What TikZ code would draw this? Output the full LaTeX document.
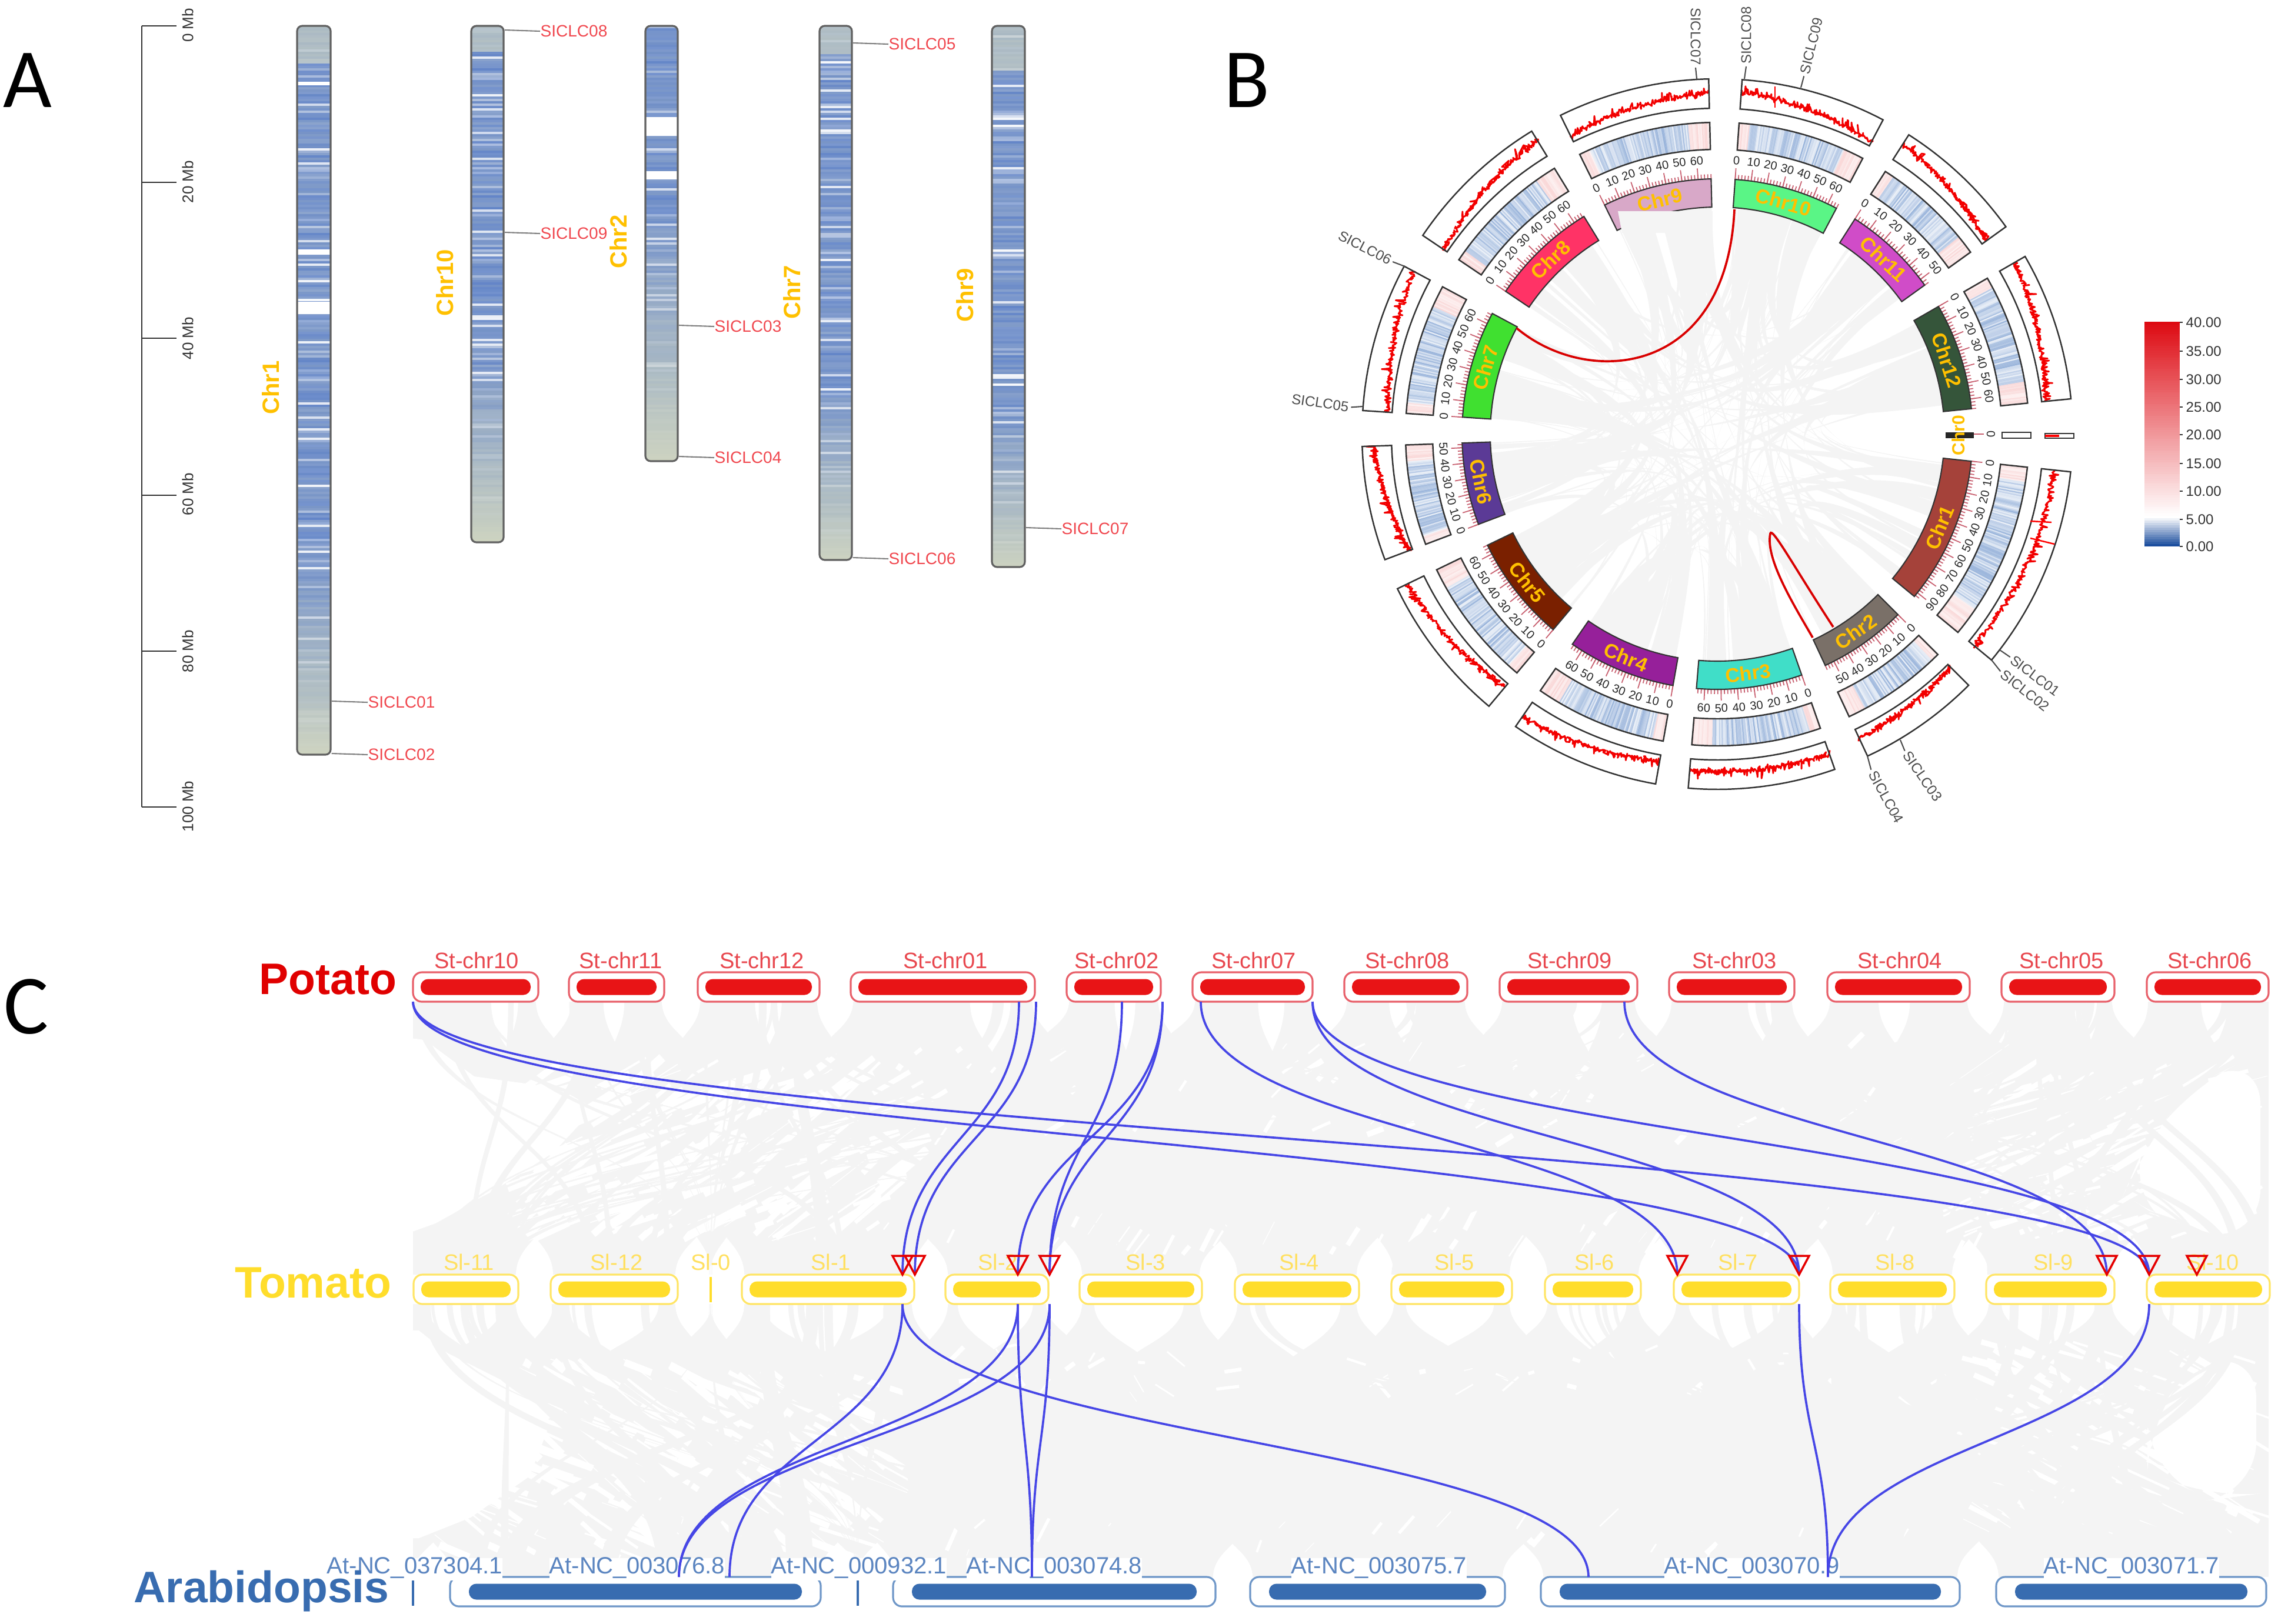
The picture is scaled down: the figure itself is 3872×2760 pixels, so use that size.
\documentclass[tikz,border=0pt]{standalone}
\usepackage{fontspec}
\setmainfont{Liberation Sans}
\newfontfamily\letterfont{Carlito}
\usetikzlibrary{calc}
\newcommand\pxf[1]{\pgfmathsetmacro\fsz{#1*0.2845}\fontsize{\fsz pt}{\fsz pt}\selectfont}
\definecolor{axisgray}{HTML}{333333}
\definecolor{chrblue}{HTML}{5F82C8}
\definecolor{chrbeige}{HTML}{D4D8C0}
\definecolor{chryellow}{HTML}{FFC000}
\definecolor{sicred}{HTML}{F0484F}
\definecolor{ribgray}{HTML}{F4F4F4}
\definecolor{linkblue}{HTML}{4646E6}
\definecolor{potred}{HTML}{E81416}
\definecolor{potedge}{HTML}{E8606A}
\definecolor{potlab}{HTML}{E8484F}
\definecolor{tomyel}{HTML}{FFDD2B}
\definecolor{tomedge}{HTML}{FFE566}
\definecolor{tomlab}{HTML}{FFE060}
\definecolor{atblue}{HTML}{386CB0}
\definecolor{atedge}{HTML}{6F97C8}
\definecolor{atlab}{HTML}{5B85C0}
\definecolor{heatB}{HTML}{6F95CC}
\definecolor{heatR}{HTML}{F4B0B0}
\definecolor{legB}{HTML}{1C4E9E}
\definecolor{legR}{HTML}{DD0A12}
\definecolor{tickred}{HTML}{C86070}
\definecolor{cA}{HTML}{A5423A}% Chr1
\definecolor{cB}{HTML}{7A7068}% Chr2
\definecolor{cC}{HTML}{40DEC8}% Chr3
\definecolor{cD}{HTML}{96209A}% Chr4
\definecolor{cE}{HTML}{7A2000}% Chr5
\definecolor{cF}{HTML}{5B3A96}% Chr6
\definecolor{cG}{HTML}{40E030}% Chr7
\definecolor{cH}{HTML}{FF3366}% Chr8
\definecolor{cI}{HTML}{D8A8C8}% Chr9
\definecolor{cJ}{HTML}{5AF586}% Chr10
\definecolor{cK}{HTML}{D04CC8}% Chr11
\definecolor{cL}{HTML}{35553A}% Chr12
\tikzset{
  mblab/.style={font=\pxf{26},rotate=90,text=axisgray,inner sep=0pt},
  chrlab/.style={font=\pxf{40}\bfseries,rotate=90,text=chryellow,inner sep=0pt},
  siclab/.style={font=\pxf{28},text=sicred,inner sep=0pt,anchor=west},
  leader/.style={draw=gray,line width=0.6pt},
  chromoedge/.style={draw=black!62,line width=0.9pt,rounded corners=2.5pt,inner sep=0pt},
  panel/.style={font=\letterfont\pxf{143},anchor=base,inner sep=0pt},
  ciclab/.style={font=\pxf{24},text=black!70,inner sep=1pt},
  cicnum/.style={font=\pxf{20},text=black!85,inner sep=0pt},
  ideolab/.style={font=\pxf{34}\bfseries,text=chryellow,inner sep=0pt},
  trackedge/.style={draw=black!80,line width=0.7pt},
  redlink/.style={draw=red!85!black,line width=1.05pt},
  legtext/.style={font=\pxf{24},text=axisgray,anchor=west,inner sep=0pt},
  potout/.style={draw=potedge,line width=0.9pt,fill=white,rounded corners=4.3pt,minimum height=0.5cm,inner sep=0pt},
  potin/.style={fill=potred,rounded corners=3.6pt,minimum height=0.27cm,inner sep=0pt},
  tomout/.style={draw=tomedge,line width=0.9pt,fill=white,rounded corners=4.3pt,minimum height=0.5cm,inner sep=0pt},
  tomin/.style={fill=tomyel,rounded corners=3.6pt,minimum height=0.27cm,inner sep=0pt},
  atout/.style={draw=atedge,line width=0.9pt,fill=white,rounded corners=4.3pt,minimum height=0.5cm,inner sep=0pt},
  atin/.style={fill=atblue,rounded corners=3.6pt,minimum height=0.27cm,inner sep=0pt},
  stlab/.style={font=\pxf{38},text=potlab,inner sep=0pt},
  sllab/.style={font=\pxf{38},text=tomlab,inner sep=0pt},
  atlabel/.style={font=\pxf{40},text=atlab,anchor=base,fill=white,inner xsep=0pt,inner ysep=0pt,text height=0.75em,text depth=0.35em},
  rowname/.style={font=\pxf{75}\bfseries,anchor=base west,inner sep=0pt},
  glink/.style={draw=linkblue,line width=1.05pt},
  trimark/.style={draw=red!90!black,line width=1pt,line join=miter},
}
% ---- panel A chromosome with random density bands
\newcommand\chromo[6]{% name,x0,x1,y1,top fade,bottom fade start
  \begin{scope}
    \clip[rounded corners=2.5pt] (#2,44) rectangle (#3,#4);
    \fill[chrbeige] (#2,44) rectangle (#3,#4);
    \pgfmathtruncatemacro\nst{(#4-44)/4}
    \foreach \k in {0,...,\nst}{
      \pgfmathsetmacro\ff{\k/\nst}
      \pgfmathsetmacro\tt{min(\ff<#5 ? 0.35 : 1,(1-\ff)/(1-#6))}
      \pgfmathtruncatemacro\tb{6+92*\tt*(0.75+0.25*rnd)}
      \pgfmathsetmacro\rw{rnd}
      \pgfmathtruncatemacro\ww{\tt*(\rw>0.93 ? 65+30*rnd : (\rw>0.78 ? 25+25*rnd : 14*rnd))}
      \pgfmathsetmacro\yy{44+\k*4}
      \pgfmathsetmacro\yz{\yy+4.6}
      \fill[fill=chrblue!\tb!chrbeige!\the\numexpr100-\ww\relax!white] (#2,\yy) rectangle (#3,\yz);
    }
  \end{scope}
}
\newcommand\chromoedge[4]{% name,x0,x1,y1
  \pgfmathsetmacro\bw{(#3-#2)*0.01}\pgfmathsetmacro\bh{(#4-44)*0.01}
  \node[chromoedge,minimum width=\bw cm,minimum height=\bh cm] (#1) at ({(#2+#3)/2},{(44+#4)/2}) {};
}
% ---- panel C
\def\PA{{702,967,1186,1446,1813,2027,2285,2549,2837,3106,3402,3649}}
\def\PB{{915,1129,1393,1759,1973,2231,2494,2783,3050,3348,3594,3856}}
\def\TA{{703,936,1205,1261,1607,1835,2099,2365,2626,2845,3111,3376,3649}}
\def\TB{{881,1152,1211,1554,1782,2043,2310,2570,2789,3058,3322,3594,3858}}
\def\AA{{702,765,1456,1518,2125,2619,3393}}
\def\AB{{704,1395,1460,2066,2558,3331,3852}}
\newcommand\ribbonset[9]{% topA,topB,botA,botB,y0,y1,N,j expr,colour
  \pgfmathsetmacro\ymid{(#5+#6)/2}
  \foreach \k in {1,...,#7}{
    \pgfmathrandominteger{\ri}{\imin}{\imax}
    \pgfmathtruncatemacro\rj{#8}
    \pgfmathsetmacro\xa{#1[\ri]}\pgfmathsetmacro\xb{#2[\ri]}
    \pgfmathsetmacro\xc{#3[\rj]}\pgfmathsetmacro\xd{#4[\rj]}
    \pgfmathsetmacro\wf{\wfa+rnd*(\wfb-\wfa)}
    \pgfmathsetmacro\xp{\xa+rnd*(1-\wf)*(\xb-\xa)}
    \pgfmathsetmacro\xq{\xp+\wf*(\xb-\xa)}
    \pgfmathsetmacro\xr{\xc+rnd*(1-\wf)*(\xd-\xc)}
    \pgfmathsetmacro\xs{\xr+\wf*(\xd-\xc)}
    \fill[#9] (\xp,#5) .. controls (\xp,\ymid) and (\xr,\ymid) .. (\xr,#6) -- (\xs,#6) .. controls (\xs,\ymid) and (\xq,\ymid) .. (\xq,#5) -- cycle;
  }
}
\newcommand\lens[5]{% x0,x1,y0,tipx,tipy : white pointed gap in the ribbon field
  \pgfmathsetmacro\lm{(#3+#5)/2}
  \pgfmathsetmacro\lla{#4-(#4-#1)*0.3}\pgfmathsetmacro\llb{#4+(#2-#4)*0.3}\pgfmathsetmacro\lly{#5+(#3-#5)*0.2}
  \fill[white] (#1,#3) .. controls (#1,\lm) and (\lla,\lly) .. (#4,#5) .. controls (\llb,\lly) and (#2,\lm) .. (#2,#3) -- cycle;
}
\newcommand\strips[9]{% N,xmin,xmax,ymin,ymax,ang0,ang1,lmax,tmax
  \foreach \k in {1,...,#1}{
    \pgfmathsetmacro\stx{#2+rnd*(#3-#2)}
    \pgfmathsetmacro\sty{#4+rnd*(#5-#4)}
    \pgfmathsetmacro\sta{#6+rnd*(#7-#6)}
    \pgfmathsetmacro\stl{10+rnd*#8}
    \pgfmathsetmacro\stt{(1+rnd*#9)*0.2845}
    \pgfmathsetmacro\sex{\stx+\stl*cos(\sta)}
    \pgfmathsetmacro\sey{\sty+\stl*sin(\sta)}
    \draw[white,line width=\stt pt] (\stx,\sty) -- (\sex,\sey);
  }
}
\newcommand\rowbar[6]{% name,x0,x1,yc,outer,inner
  \pgfmathsetmacro\bw{(#3-#2)*0.01}\pgfmathsetmacro\biw{(#3-#2-2*\barinset)*0.01}\pgfmathsetmacro\bx{(#2+#3)/2}
  \node[#5,minimum width=\bw cm] (#1) at (\bx,#4) {};
  \node[#6,minimum width=\biw cm] (#1i) at (\bx,#4) {};
}
\newcommand\sigm[2]{\draw[glink] (#1) .. controls ($(#1)!.5!(#1|-#2)$) and ($(#2)!.5!(#2|-#1)$) .. (#2);}
\newcommand\tri[1]{\draw[trimark] ($(#1)+(-17,-32)$) -- ($(#1)+(17,-32)$) -- (#1) -- cycle;}
% ---- panel B
\def\SA{{4,32.6,60,96.1,135,160.7,190,220,249.3,273.8,304,333.8}}
\def\SB{{27.8,54.3,84.3,129.5,155,184.7,214.6,244.2,268,298.2,328.5,358.6}}
\newcommand\sectorpath[4]{plot[domain=#1:#2,samples=30] (\x:#3) -- plot[domain=#2:#1,samples=30] (\x:#4) -- cycle}
\newcommand\sectorch[8]{% colour,b0,b1,len,maxlab,v0,v1,label
  \pgfmathsetmacro\tha{#2-90}\pgfmathsetmacro\thb{#3-90}
  \draw[red!95!black,line width=0.8pt,line join=round] plot[domain=\tha:\thb,samples=240]
    (\x:{554+50*min(0.97,max(0.03,#6+(#7-#6)*(\x-\tha)/(\thb-\tha)+0.3*(rnd-0.4)*rnd+pow(rnd,14)*0.3))});
  \draw[trackedge] \sectorpath{\tha}{\thb}{554}{604};
  \pgfmathtruncatemacro\hn{(#3-#2)/0.25}
  \foreach \k in {1,...,\hn}{
    \pgfmathsetmacro\ff{(\k-0.5)/\hn}
    \pgfmathsetmacro\ab{\tha+(\k-1)*(\thb-\tha)/\hn}
    \pgfmathsetmacro\ac{\ab+(\thb-\tha)/\hn+0.03}
    \pgfmathtruncatemacro\pk{(\ff<0.08 || \ff>0.84) ? 1 : 0}
    \pgfmathsetmacro\edg{min(1,min(\ff/0.2,(1-\ff)/0.3))}
    \pgfmathtruncatemacro\qq{\pk==1 ? 18+32*rnd : (14+58*rnd)*(0.45+0.55*\edg)}
    \ifnum\pk=1 \def\hc{heatR}\else\def\hc{heatB}\fi
    \fill[fill=\hc!\qq!white] (\ab:484) -- (\ab:530) -- (\ac:530) -- (\ac:484) -- cycle;
  }
  \draw[trackedge] \sectorpath{\tha}{\thb}{484}{530};
  \foreach \m in {0,2,...,#4}{
    \pgfmathsetmacro\am{\tha+\m/#4*(\thb-\tha)}
    \draw[tickred,line width=0.5pt] (\am:434) -- (\am:442);
  }
  \foreach \m in {0,10,...,#5}{
    \pgfmathsetmacro\am{\tha+\m/#4*(\thb-\tha)}
    \pgfmathsetmacro\bb{\am+90}
    \pgfmathsetmacro\rr{(\bb>90 && \bb<270) ? 180-\bb : -\bb}
    \draw[tickred,line width=0.5pt] (\am:434) -- (\am:453);
    \node[cicnum,rotate=\rr] at (\am:466) {\m};
  }
  \fill[#1] \sectorpath{\tha}{\thb}{386}{434};
  \draw[draw=black!80,line width=0.6pt] \sectorpath{\tha}{\thb}{386}{434};
  \pgfmathsetmacro\am{(\tha+\thb)/2}
  \pgfmathsetmacro\bb{\am+90}
  \pgfmathsetmacro\rr{(\bb>90 && \bb<270) ? 180-\bb : -\bb}
  \node[ideolab,rotate=\rr] (ideo#8) at (\am:410) {#8};
}
\begin{document}
\begin{tikzpicture}[x=0.01cm,y=-0.01cm]
\useasboundingbox (0,0) rectangle (3872,2760);
\pgfmathsetseed{4242}
% ================ Panel letters
\node[panel] (letA) at (47,182) {A};
\node[panel] (letB) at (2119,182) {B};
\node[panel] (letC) at (45,1757) {C};
% ================ Panel A
\draw[axisgray,line width=0.8pt] (241,44) -- (241,1372);
\foreach \yy/\lab/\ly in {44/0 Mb/43,310/20 Mb/309,575/40 Mb/575,842/60 Mb/840,1107/80 Mb/1107,1372/100 Mb/1371}{
  \draw[axisgray,line width=0.8pt] (241,\yy) -- (300,\yy);
  \node[mblab] at (319,\ly) {\lab};
}
\chromo{c1}{505}{562}{1283}{0.05}{0.72}
\fill[white] (505,513) rectangle (562,534);
\fill[white] (505,139) rectangle (562,145);
\fill[white] (505,424) rectangle (562,433);
\chromoedge{c1}{505}{562}{1283}
\chromo{c10}{801}{856}{922}{0.05}{0.62}
\chromoedge{c10}{801}{856}{922}
\chromo{c2}{1097}{1152}{784}{0.0}{0.42}
\fill[white] (1097,199) rectangle (1152,231);
\fill[white] (1097,291) rectangle (1152,305);
\chromoedge{c2}{1097}{1152}{784}
\chromo{c7}{1393}{1448}{952}{0.05}{0.66}
\chromoedge{c7}{1393}{1448}{952}
\chromo{c9}{1686}{1742}{964}{0.08}{0.7}
\chromoedge{c9}{1686}{1742}{964}
\node[chrlab] (n1) at (460,659) {Chr1};
\node[chrlab] (n10) at (756,481) {Chr10};
\node[chrlab] (n2) at (1051,411) {Chr2};
\node[chrlab] (n7) at (1346,497) {Chr7};
\node[chrlab] (n9) at (1640,502) {Chr9};
\foreach \nm/\cn/\xx/\yy in {SICLC08/c10/918/53,SICLC09/c10/918/397,SICLC03/c2/1214/555,SICLC04/c2/1214/778,SICLC05/c7/1510/75,SICLC06/c7/1510/950,SICLC07/c9/1804/899,SICLC01/c1/625/1194,SICLC02/c1/625/1283}{
  \node[siclab] (A\nm) at (\xx,\yy) {\nm};
  \draw[leader] ($(\cn.east |- A\nm.west)+(0,-2)$) -- (A\nm.west);
}
% ================ Panel B
\begin{scope}[shift={(2919,738)}]
  \foreach \k in {1,...,170}{
    \pgfmathrandominteger{\ri}{0}{11}
    \pgfmathrandominteger{\rj}{0}{11}
    \pgfmathsetmacro\wa{0.3+pow(rnd,2.5)*5}
    \pgfmathsetmacro\wb{0.3+pow(rnd,2.5)*5}
    \pgfmathsetmacro\p{\SA[\ri]-90+rnd*(\SB[\ri]-\SA[\ri]-\wa)}
    \pgfmathsetmacro\q{\SA[\rj]-90+rnd*(\SB[\rj]-\SA[\rj]-\wb)}
    \pgfmathsetmacro\pp{\p+\wa}\pgfmathsetmacro\qq{\q+\wb}
    \pgfmathsetmacro\rc{30+140*rnd}
    \fill[ribgray] (\p:386) .. controls (\p:\rc) and (\q:\rc) .. (\q:386) -- (\qq:386) .. controls (\qq:\rc) and (\pp:\rc) .. (\pp:386) -- cycle;
  }
  \sectorch{cJ}{4}{27.8}{66}{60}{0.55}{0.15}{Chr10}
  \sectorch{cK}{32.6}{54.3}{54}{50}{0.6}{0.15}{Chr11}
  \sectorch{cL}{60}{84.3}{66}{60}{0.55}{0.1}{Chr12}
  \sectorch{cA}{96.1}{129.5}{93}{90}{0.4}{0.2}{Chr1}
  \sectorch{cB}{135}{155}{56}{50}{0.1}{0.3}{Chr2}
  \sectorch{cC}{160.7}{184.7}{65}{60}{0.4}{0.35}{Chr3}
  \sectorch{cD}{190}{214.6}{67}{60}{0.2}{0.55}{Chr4}
  \sectorch{cE}{220}{244.2}{66}{60}{0.1}{0.6}{Chr5}
  \sectorch{cF}{249.3}{268}{53}{50}{0.1}{0.6}{Chr6}
  \sectorch{cG}{273.8}{298.2}{67}{60}{0.1}{0.6}{Chr7}
  \sectorch{cH}{304}{328.5}{67}{60}{0.1}{0.6}{Chr8}
  \sectorch{cI}{333.8}{358.6}{68}{60}{0.2}{0.5}{Chr9}
\end{scope}
% overlay of ribbons on Chr9
\fill[ribgray] (2750,359) -- (2911,359) -- (2911,396) -- (2757,396) -- cycle;
% spikes
\draw[red,line width=0.8pt] (3017,147) -- (3017,183);
\draw[red,line width=0.7pt] (3451,886) -- (3487,888);
\draw[red,line width=0.7pt] (3451,915) -- (3492,925);
% Chr0
\fill[black!85] (3307,735) rectangle (3355,745);
\draw[tickred,line width=0.8pt] (3355,738) -- (3372,738);
\node[cicnum,rotate=-90] (z0) at (3384,738) {0};
\draw[trackedge] (3403,735) rectangle (3452,745);
\draw[trackedge] (3476,737) rectangle (3525,745);
\fill[red] (3476,739) rectangle (3500,743);
\node[ideolab,font=\pxf{30}\bfseries,rotate=90] (ideoChr0) at (3329,740) {Chr0};
% red links
\coordinate (lka) at (2578,558);
\coordinate (lkb) at (2948,356);
\coordinate (lkc) at (3081,1084);
\coordinate (lkd) at (3116,1066);
\coordinate (lke) at (3009,907);
\draw[redlink] (lka) .. controls (2700,660) and (2935,640) .. (lkb);
\draw[redlink] (lkc) .. controls (3050,1030) and (3000,950) .. (lke) .. controls (3012,895) and (3050,965) .. (lkd);
% circos labels
\node[ciclab,rotate=-90] (S7) at (2882,62) {SICLC07};
\coordinate (S7p) at (2884,134); \draw[leader,black!70] (S7.east) -- (S7p);
\node[ciclab,rotate=90] (S8) at (2968,60) {SICLC08};
\coordinate (S8p) at (2965,134); \draw[leader,black!70] (S8.west) -- (S8p);
\node[ciclab,rotate=76] (S9) at (3079,78) {SICLC09};
\coordinate (S9p) at (3061,149); \draw[leader,black!70] (S9.west) -- (S9p);
\node[ciclab,rotate=-27] (S6) at (2320,421) {SICLC06};
\coordinate (S6p) at (2388,453); \draw[leader,black!70] (S6.east) -- (S6p);
\node[ciclab,rotate=-8] (S5) at (2244,685) {SICLC05};
\coordinate (S5p) at (2316,691); \draw[leader,black!70] (S5.east) -- (S5p);
\node[ciclab,rotate=-37] (S1) at (3459,1149) {SICLC01};
\coordinate (S1p) at (3399,1105); \draw[leader,black!70] (S1.west) -- (S1p);
\node[ciclab,rotate=-38] (S2) at (3442,1174) {SICLC02};
\coordinate (S2p) at (3385,1122); \draw[leader,black!70] (S2.west) -- (S2p);
\node[ciclab,rotate=-55] (S3) at (3268,1320) {SICLC03};
\coordinate (S3p) at (3230,1258); \draw[leader,black!70] (S3.west) -- (S3p);
\node[ciclab,rotate=-61] (S4) at (3206,1355) {SICLC04};
\coordinate (S4p) at (3174,1285); \draw[leader,black!70] (S4.west) -- (S4p);
% legend
\foreach \k in {0,...,95}{
  \pgfmathsetmacro\vv{40*\k/95}
  \pgfmathsetmacro\ya{929-\k/96*381}
  \pgfmathsetmacro\yb{\ya-5}
  \pgfmathtruncatemacro\cc{\vv<5 ? 100*(1-\vv/5) : 100*(\vv-5)/35}
  \pgfmathtruncatemacro\isb{\vv<5 ? 1 : 0}
  \ifnum\isb=1 \def\lc{legB}\else\def\lc{legR}\fi
  \fill[fill=\lc!\cc!white] (3645,\ya) rectangle (3705,\yb);
}
\foreach \vl/\yy in {40.00/548,35.00/597,30.00/645,25.00/692,20.00/739,15.00/788,10.00/835,5.00/883,0.00/929}{
  \node[legtext] at (3715,\yy) {\vl};
  \draw[axisgray,line width=0.4pt] (3705,\yy) -- (3710,\yy);
}
% ================ Panel C ribbon field
\fill[ribgray] (702,1703) rectangle (3856,2167);
\fill[ribgray] (702,2217) rectangle (3856,2681);
% white blobs at the sparse left and right sides
\fill[white] (698,1765) -- (722,1768) -- (806,1830) -- (950,1850) -- (1010,1885) -- (940,1960) -- (830,2030) -- (740,2080) -- (698,2095) -- cycle;
\fill[white] (698,2262) -- (712,2262) -- (760,2300) -- (880,2360) -- (935,2420) -- (900,2510) -- (800,2580) -- (712,2615) -- (698,2615) -- cycle;
\fill[white,rounded corners=25pt] (3842,1790) -- (3720,1850) -- (3640,1960) -- (3610,2030) -- (3700,2090) -- (3842,2110) -- cycle;
\fill[white,rounded corners=25pt] (3835,2290) -- (3720,2330) -- (3650,2420) -- (3650,2500) -- (3760,2550) -- (3835,2540) -- cycle;
% streaks
\strips{230}{850}{1500}{1840}{2110}{-45}{-15}{110}{15}
\strips{230}{720}{1480}{2310}{2630}{15}{45}{110}{13}
\strips{60}{1500}{3400}{1760}{1950}{-60}{-20}{30}{9}
\strips{40}{1500}{3400}{2080}{2140}{-65}{-50}{40}{8}
\strips{40}{1500}{3300}{2280}{2380}{-60}{60}{30}{7}
\strips{30}{1500}{3300}{2590}{2650}{-70}{-40}{35}{8}
\strips{120}{3300}{3800}{1830}{2110}{-35}{-10}{120}{9}
\strips{110}{3320}{3800}{2280}{2580}{15}{35}{110}{9}
% lenses under and above the rows
\foreach \g in {0,...,10}{
  \pgfmathtruncatemacro\gn{\g+1}
  \pgfmathsetmacro\la{\PB[\g]-4}\pgfmathsetmacro\lb{\PA[\gn]+4}
  \pgfmathsetmacro\lt{(\la+\lb)/2+(rnd-0.5)*20}\pgfmathsetmacro\ld{1755+rnd*10}
  \lens{\la}{\lb}{1703}{\lt}{\ld}
}
\foreach \g in {0,...,11}{
  \pgfmathsetmacro\la{\PA[\g]}\pgfmathsetmacro\lb{\PB[\g]}
  \pgfmathsetmacro\lp{\la+(0.2+0.45*rnd)*(\lb-\la)}\pgfmathsetmacro\lq{\lp+0.22*(\lb-\la)}
  \pgfmathsetmacro\lt{\lq-0.1*(\lb-\la)}\pgfmathsetmacro\ld{1763+rnd*25}
  \lens{\lp}{\lq}{1703}{\lt}{\ld}
}
\foreach \g in {0,...,11}{
  \pgfmathtruncatemacro\gn{\g+1}
  \pgfmathsetmacro\la{\TB[\g]-4}\pgfmathsetmacro\lb{\TA[\gn]+4}
  \pgfmathsetmacro\lt{(\la+\lb)/2+(rnd-0.5)*12}\pgfmathsetmacro\ld{2112-rnd*10}
  \lens{\la}{\lb}{2167}{\lt}{\ld}
  \pgfmathsetmacro\lt{(\la+\lb)/2+(rnd-0.5)*12}\pgfmathsetmacro\ld{2269+rnd*10}
  \lens{\la}{\lb}{2217}{\lt}{\ld}
}
\foreach \g in {0,1,3,4,5,6,7,8,9,10,11,12}{
  \pgfmathsetmacro\la{\TA[\g]}\pgfmathsetmacro\lb{\TB[\g]}
  \pgfmathsetmacro\lp{\la+0.12*(\lb-\la)}\pgfmathsetmacro\lq{\la+0.85*(\lb-\la)}
  \pgfmathsetmacro\lt{\lp+0.48*(\lq-\lp)}\pgfmathsetmacro\ld{2287+rnd*20}
  \lens{\lp}{\lq}{2217}{\lt}{\ld}
}
\foreach \g in {0,...,5}{
  \pgfmathtruncatemacro\gn{\g+1}
  \pgfmathsetmacro\la{\AB[\g]-4}\pgfmathsetmacro\lb{\AA[\gn]+4}
  \pgfmathsetmacro\lt{(\la+\lb)/2+(rnd-0.5)*12}\pgfmathsetmacro\ld{2626-rnd*6}
  \lens{\la}{\lb}{2681}{\lt}{\ld}
}
% sparse ribbons crossing the white side areas
\def\wfa{0.02}\def\wfb{0.08}
\def\imin{0}\def\imax{2}
\ribbonset{\PA}{\PB}{\TA}{\TB}{1703}{2167}{30}{rnd*7}{ribgray}
\def\imin{2}\def\imax{9}
\ribbonset{\PA}{\PB}{\TA}{\TB}{1703}{2167}{20}{rnd*1.4}{ribgray}
\def\imin{10}\def\imax{11}
\ribbonset{\PA}{\PB}{\TA}{\TB}{1703}{2167}{30}{7+rnd*5}{ribgray}
\def\imin{5}\def\imax{10}
\ribbonset{\PA}{\PB}{\TA}{\TB}{1703}{2167}{20}{11+rnd*1.9}{ribgray}
\def\imin{0}\def\imax{3}
\ribbonset{\TA}{\TB}{\AA}{\AB}{2217}{2681}{40}{1+rnd*2.9}{ribgray}
\def\imin{10}\def\imax{12}
\ribbonset{\TA}{\TB}{\AA}{\AB}{2217}{2681}{30}{5+rnd*1.9}{ribgray}
\def\imin{6}\def\imax{10}
\ribbonset{\TA}{\TB}{\AA}{\AB}{2217}{2681}{15}{6}{ribgray}
% ================ Rows
\def\barinset{13}
\rowbar{St10}{702}{915}{1678}{potout}{potin}
\rowbar{St11}{967}{1129}{1678}{potout}{potin}
\rowbar{St12}{1186}{1393}{1678}{potout}{potin}
\rowbar{St01}{1446}{1759}{1678}{potout}{potin}
\rowbar{St02}{1813}{1973}{1678}{potout}{potin}
\rowbar{St07}{2027}{2231}{1678}{potout}{potin}
\rowbar{St08}{2285}{2494}{1678}{potout}{potin}
\rowbar{St09}{2549}{2783}{1678}{potout}{potin}
\rowbar{St03}{2837}{3050}{1678}{potout}{potin}
\rowbar{St04}{3106}{3348}{1678}{potout}{potin}
\rowbar{St05}{3402}{3594}{1678}{potout}{potin}
\rowbar{St06}{3649}{3856}{1678}{potout}{potin}
\foreach \nm/\xx in {10/810,11/1055,12/1295,01/1607,02/1898,07/2131,08/2392,09/2668,03/2948,04/3229,05/3504,06/3756}{
  \node[stlab] (StL\nm) at (\xx,1633) {St-chr\nm};
}
\rowbar{Sl11}{703}{881}{2192}{tomout}{tomin}
\rowbar{Sl12}{936}{1152}{2192}{tomout}{tomin}
\rowbar{Sl1}{1261}{1554}{2192}{tomout}{tomin}
\rowbar{Sl2}{1607}{1782}{2192}{tomout}{tomin}
\rowbar{Sl3}{1835}{2043}{2192}{tomout}{tomin}
\rowbar{Sl4}{2099}{2310}{2192}{tomout}{tomin}
\rowbar{Sl5}{2365}{2570}{2192}{tomout}{tomin}
\rowbar{Sl6}{2626}{2789}{2192}{tomout}{tomin}
\rowbar{Sl7}{2845}{3058}{2192}{tomout}{tomin}
\rowbar{Sl8}{3111}{3322}{2192}{tomout}{tomin}
\rowbar{Sl9}{3376}{3594}{2192}{tomout}{tomin}
\rowbar{Sl10}{3649}{3858}{2192}{tomout}{tomin}
\draw[tomyel,line width=1.3pt] (1208,2171) -- (1208,2214);
\foreach \nm/\xx in {11/797,12/1048,0/1208,1/1412,2/1696,3/1947,4/2208,5/2472,6/2710,7/2954,8/3221,9/3490,10/3761}{
  \node[sllab] (SlL\nm) at (\xx,2146) {Sl-\nm};
}
\def\barinset{32}
\rowbar{At6}{765}{1395}{2706}{atout}{atin}
\rowbar{At4}{1518}{2066}{2706}{atout}{atin}
\rowbar{At5}{2125}{2558}{2706}{atout}{atin}
\rowbar{At0}{2619}{3331}{2706}{atout}{atin}
\rowbar{At1}{3393}{3852}{2706}{atout}{atin}
\draw[atblue,line width=1pt] (702,2683) -- (702,2730);
\draw[atblue,line width=1pt] (1458,2683) -- (1458,2730);
\foreach \nm/\xx in {037304.1/705,003076.8/1083,000932.1/1460,003074.8/1792,003075.7/2344,003070.9/2978,003071.7/3623}{
  \node[atlabel] (AtL\nm) at (\xx,2675) {At-NC\_\nm};
}
\node[rowname,text=red!88!black] (potato) at (440,1690) {Potato};
\node[rowname,text=tomyel] (tomato) at (399,2206) {Tomato};
\node[rowname,text=atblue] (arab) at (227,2724) {Arabidopsis};
% ================ Panel C links
\foreach \nm/\xx in {pa/702,pb/1732,pc/1761,pd/1907,pe/1976,pf/2041,pg/2231,ph/2761}{\coordinate (\nm) at (\xx,1703);}
\foreach \nm/\xx in {t1/1534,t2/1555,t3/1730,t4/1784,t5/2851,t6/3058,t7/3581,t8/3653,t9/3734}{\coordinate (\nm) at (\xx,2167);}
\foreach \nm/\xx in {u1/1534,u3/1730,u4/1784,u6/3058,u8/3653}{\coordinate (\nm) at (\xx,2217);}
\foreach \nm/\xx in {a1/1154,a2/1240,a3/1754,a4/2700,a5/3107}{\coordinate (\nm) at (\xx,2681);}
\sigm{pa}{t8}\sigm{pa}{t6}\sigm{pb}{t1}\sigm{pc}{t2}\sigm{pd}{t4}\sigm{pe}{t3}\sigm{pe}{t4}
\sigm{pf}{t5}\sigm{pg}{t6}\sigm{pg}{t8}\sigm{ph}{t7}
\sigm{u1}{a2}\sigm{u1}{a4}\sigm{u3}{a1}\sigm{u3}{a3}\sigm{u4}{a1}\sigm{u4}{a3}\sigm{u6}{a5}\sigm{u8}{a5}
\tri{t1}\tri{t2}\tri{t3}\tri{t4}\tri{t5}\tri{t6}\tri{t7}\tri{t8}\tri{t9}
\end{tikzpicture}
\end{document}
